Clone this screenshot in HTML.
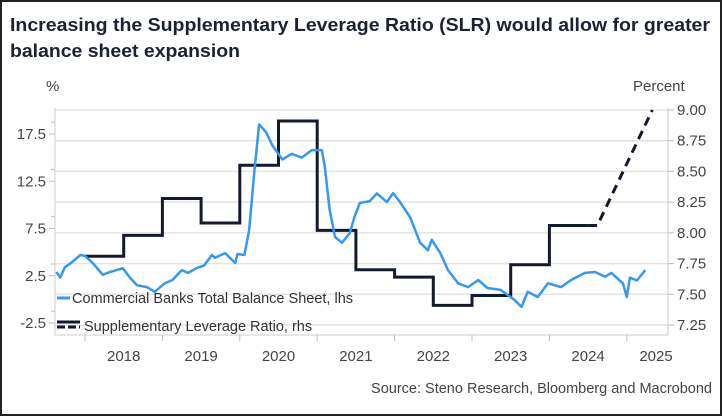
<!DOCTYPE html>
<html><head><meta charset="utf-8"><style>
body{margin:0;background:#fff}
svg{display:block;font-family:"Liberation Sans",sans-serif}
</style></head><body>
<svg id="chart" width="722" height="416" viewBox="0 0 722 416">
<rect x="1" y="1" width="720" height="414" fill="#fff" stroke="#222" stroke-width="2"/>
<text x="10" y="31" font-size="18" font-weight="bold" fill="#1c2133" textLength="700" lengthAdjust="spacingAndGlyphs">Increasing the Supplementary Leverage Ratio (SLR) would allow for greater</text>
<text x="10" y="57" font-size="18" font-weight="bold" fill="#1c2133" textLength="230" lengthAdjust="spacingAndGlyphs">balance sheet expansion</text>
<text x="46" y="91" font-size="15" fill="#444">%</text>
<text x="633" y="91" font-size="15" fill="#444">Percent</text>
<g id="grid"></g><g id="axes"></g><g id="series"></g>
<g>
<line x1="57" y1="298" x2="70" y2="298" stroke="#3399f3" stroke-width="3"/>
<text x="72" y="303" font-size="14.5" fill="#333">Commercial Banks Total Balance Sheet, lhs</text>
<line x1="57" y1="322" x2="80" y2="322" stroke="#141a2e" stroke-width="3"/>
<line x1="57" y1="327" x2="80" y2="327" stroke="#141a2e" stroke-width="3" stroke-dasharray="8,3"/>
<text x="84" y="331" font-size="14.5" fill="#333">Supplementary Leverage Ratio, rhs</text>
</g>
<text x="712" y="393" font-size="14.5" fill="#444" text-anchor="end">Source: Steno Research, Bloomberg and Macrobond</text>
</svg>
<script>
const lhsTicks=[17.5,12.5,7.5,2.5,-2.5];
const rhsTicks=[9.00,8.75,8.50,8.25,8.00,7.75,7.50,7.25];
const years=[2018,2019,2020,2021,2022,2023,2024,2025];
const slrDates=[2018.0,2018.5,2019.0,2019.5,2020.0,2020.5,2021.0,2021.5,2022.0,2022.5,2023.0,2023.5,2024.0,2024.5];
const slrValues=[7.81,7.98,8.28,8.08,8.55,8.91,8.02,7.70,7.64,7.41,7.49,7.74,8.06,8.06];
const projDates=[2024.5,2024.62,2025.33];
const projValues=[8.06,8.06,9.0];
const bsDates=[2017.63,2017.68,2017.74,2017.81,2017.94,2018.0,2018.1,2018.23,2018.32,2018.41,2018.49,2018.58,2018.67,2018.8,2018.9,2019.03,2019.13,2019.25,2019.33,2019.44,2019.54,2019.64,2019.68,2019.81,2019.94,2019.97,2020.06,2020.12,2020.19,2020.25,2020.34,2020.42,2020.55,2020.67,2020.8,2020.93,2021.06,2021.1,2021.16,2021.23,2021.32,2021.42,2021.48,2021.55,2021.68,2021.77,2021.9,2021.98,2022.07,2022.2,2022.33,2022.43,2022.48,2022.59,2022.69,2022.82,2022.95,2023.08,2023.2,2023.37,2023.55,2023.64,2023.72,2023.85,2023.98,2024.15,2024.28,2024.46,2024.59,2024.72,2024.8,2024.95,2025.0,2025.04,2025.13,2025.24];
const bsValues=[2.9,2.3,3.4,3.8,4.7,4.6,3.85,2.6,2.9,3.1,3.3,2.3,1.5,1.3,0.8,1.7,2.05,3.1,2.8,3.3,3.6,4.7,4.4,4.9,3.85,4.8,4.7,7.3,13.7,18.5,17.7,16.3,14.8,15.4,15.0,15.8,15.8,14.0,9.5,6.6,6.0,7.0,8.7,10.2,10.4,11.2,10.3,11.25,10.3,8.7,6.0,5.2,6.3,4.9,3.1,1.7,1.3,2.05,1.2,1.0,-0.07,-0.8,0.8,0.25,1.7,1.3,2.05,2.8,2.9,2.4,2.8,1.7,0.25,2.3,2.0,3.1];

const NS='http://www.w3.org/2000/svg';
const X0=55,X1=668,Y0=110,YB=335;
function xs(t){return 85+(t-2018)*77.4;}
function yl(v){return 134+(17.5-v)*9.45;}
function yr(v){return 110+(9-v)*122.86;}
function mk(tag,attrs,parent){const e=document.createElementNS(NS,tag);for(const k in attrs)e.setAttribute(k,attrs[k]);parent.appendChild(e);return e;}
const grid=document.getElementById('grid'),axes=document.getElementById('axes'),series=document.getElementById('series');

rhsTicks.forEach(v=>{
  const g=mk('line',{x1:X0,x2:X1,y1:yr(v),y2:yr(v),stroke:'#e3e3e3','stroke-width':1.5},grid);
  
  
  const tk=mk('line',{x1:X1,x2:X1+6,y1:yr(v),y2:yr(v),stroke:'#bbb'},axes);
  
  
  const t=mk('text',{x:X1+9,y:yr(v)+5,'font-size':15,fill:'#444'},axes);
  t.textContent=v.toFixed(2);
  
  
});
lhsTicks.forEach(v=>{
  const tk=mk('line',{x1:X0-6,x2:X0,y1:yl(v),y2:yl(v),stroke:'#bbb'},axes);
  
  
  const t=mk('text',{x:X0-9,y:yl(v)+5,'font-size':15,fill:'#444','text-anchor':'end'},axes);
  t.textContent=v.toFixed(1);
  
  
});
[-1.25,3.75,8.75,13.75,18.75].forEach(v=>{
  const tk=mk('line',{x1:X0-4,x2:X0,y1:yl(v),y2:yl(v),stroke:'#bbb'},axes);
  
  
});
let a=mk('line',{x1:X0,x2:X0,y1:Y0-2,y2:YB,stroke:'#ccc'},axes);


a=mk('line',{x1:X1,x2:X1,y1:Y0-2,y2:YB,stroke:'#ccc'},axes);


a=mk('line',{x1:X0,x2:X1,y1:YB,y2:YB,stroke:'#ccc'},axes);


years.forEach(y=>{
  const tk=mk('line',{x1:xs(y),x2:xs(y),y1:YB,y2:YB+6,stroke:'#bbb'},axes);
  
  
  const t=mk('text',{x:Math.min(xs(y+0.5),656),y:YB+26,'font-size':15,fill:'#444','text-anchor':'middle'},axes);
  t.textContent=y;
  
  
});

let d='M'+xs(slrDates[0])+','+yr(slrValues[0]);
for(let i=1;i<slrDates.length;i++){d+=' H'+xs(slrDates[i])+' V'+yr(slrValues[i]);}
const slr=mk('path',{d:d,fill:'none',stroke:'#141a2e','stroke-width':3},series);


const pd=projDates.map((t,i)=>(i?'L':'M')+xs(t)+','+yr(projValues[i])).join(' ');
const proj=mk('path',{d:pd,fill:'none',stroke:'#141a2e','stroke-width':3,'stroke-dasharray':'9,6'},series);


const bd=bsDates.map((t,i)=>(i?'L':'M')+xs(t).toFixed(1)+','+yl(bsValues[i]).toFixed(1)).join(' ');
const bs=mk('path',{d:bd,fill:'none',stroke:'#3399f3','stroke-width':2.5,'stroke-linejoin':'round'},series);


</script>
</body></html>
